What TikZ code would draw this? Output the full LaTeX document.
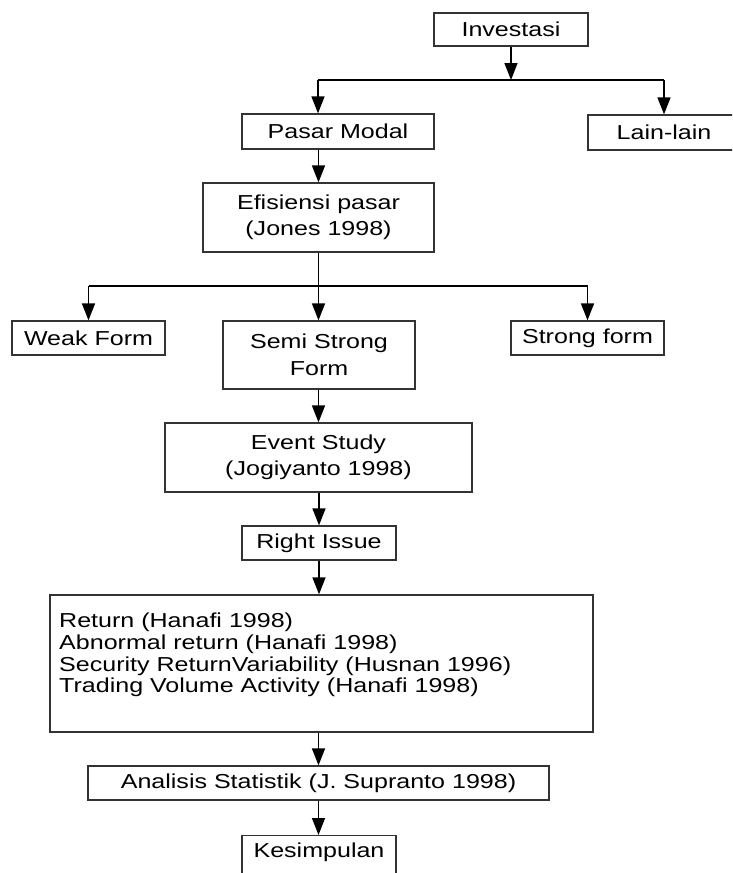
\documentclass[tikz,border=0pt]{standalone}
\usepackage{fontspec}
\setmainfont{Liberation Sans}[FakeStretch=1.24]
\usetikzlibrary{arrows.meta}
\begin{document}
\begin{tikzpicture}[x=1pt,y=-1pt,
  box/.style={draw=black!80,line width=1.3pt,rectangle,inner sep=0pt,align=center,
    font=\fontsize{20.2}{26.5}\selectfont},
  arr/.style={line width=1.5pt,-{Triangle[length=17pt,width=13pt]}},
  ln/.style={line width=1.5pt}]
\clip (0,0) rectangle (732,873);
\fill[white] (0,0) rectangle (732,873);
% nodes
\node[box,minimum width=154pt,minimum height=33pt] (inv) at (511,29.5) {Investasi};
\node[box,minimum width=192pt,minimum height=35pt] (pm) at (338,131.5) {Pasar Modal};
\node[box,minimum width=152pt,minimum height=35pt] (lain) at (664,132.5) {Lain-lain};
\node[box,minimum width=231pt,minimum height=69pt] (eff) at (318.5,217.5) {Efisiensi pasar\\(Jones 1998)};
\node[box,minimum width=153pt,minimum height=34pt] (weak) at (88.5,338) {Weak Form};
\node[box,minimum width=192pt,minimum height=68pt] (semi) at (319,355) {Semi Strong\\Form};
\node[box,minimum width=153pt,minimum height=34pt] (strong) at (587.5,338) {Strong form};
\node[box,minimum width=307pt,minimum height=69pt] (event) at (318.5,457.5) {Event Study\\(Jogiyanto 1998)};
\node[box,minimum width=154pt,minimum height=34pt] (right) at (319,543) {Right Issue};
\node[box,minimum width=543pt,minimum height=137pt] (big) at (321.5,663.5) {};
\node[align=left,inner sep=0pt,anchor=west,font=\fontsize{20.2}{21.7}\selectfont] (bigtxt) at (59,655)
  {Return (Hanafi 1998)\\Abnormal return (Hanafi 1998)\\Security ReturnVariability (Husnan 1996)\\Trading Volume Activity (Hanafi 1998)};
\node[box,minimum width=461pt,minimum height=34pt] (anal) at (318.5,783) {Analisis Statistik (J. Supranto 1998)};
\node[box,minimum width=154pt,minimum height=40pt,anchor=north] (kes) at (319,835) {};
\node[inner sep=0pt,font=\fontsize{20.2}{26.5}\selectfont] (kestxt) at (319,852) {Kesimpulan};
% branch coordinates
\coordinate (b1) at (511,80);
\coordinate (b1l) at (318,80);
\coordinate (b1r) at (664,80);
\coordinate (b2) at (318.5,286);
\coordinate (b2l) at (88.5,286);
\coordinate (b2r) at (587.5,286);
% connectors
\draw[arr] (inv.south) -- (b1);
\draw[ln] (b1l) -- (b1r);
\draw[arr] (b1l) -- (b1l |- pm.north);
\draw[arr] (b1r) -- (lain.north);
\draw[arr] (pm.south -| eff.north) -- (eff.north);
\draw[ln] (eff.south) -- (b2);
\draw[ln] (b2l) -- (b2r);
\draw[arr] (b2l) -- (weak.north);
\draw[arr] (b2) -- (b2 |- semi.north);
\draw[arr] (b2r) -- (strong.north);
\draw[arr] (semi.south -| event.north) -- (event.north);
\draw[arr] (event.south -| right.north) -- (right.north);
\draw[arr] (right.south) -- (right.south |- big.north);
\draw[arr] (big.south -| anal.north) -- (anal.north);
\draw[arr] (anal.south) -- (anal.south |- kes.north);
\end{tikzpicture}
\end{document}
